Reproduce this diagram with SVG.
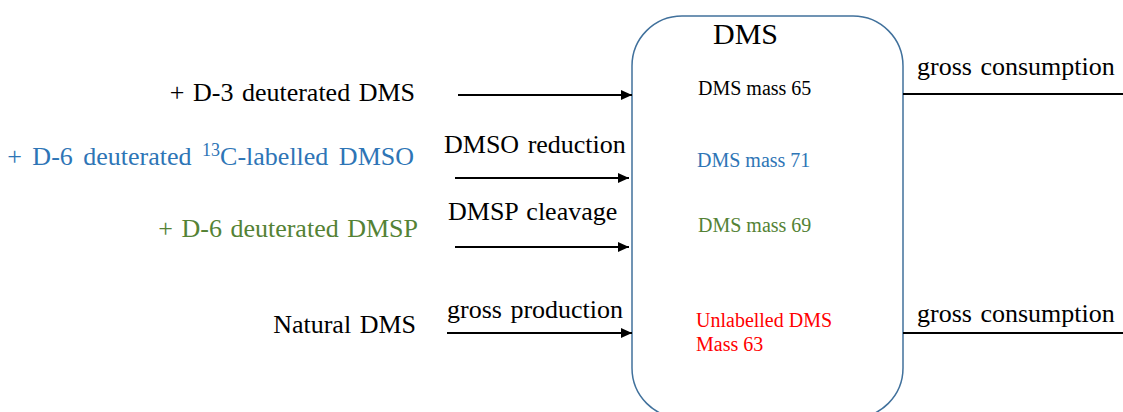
<svg xmlns="http://www.w3.org/2000/svg" width="1123" height="412" viewBox="0 0 1123 412">
<defs>
<marker id="ah" markerUnits="userSpaceOnUse" markerWidth="12" markerHeight="10" refX="11" refY="5" orient="auto">
<path d="M0,0 L11,5 L0,10 Z" fill="#000"/>
</marker>
<style>
text{font-family:"Liberation Serif","Times New Roman",serif;}
.big{font-size:26px;word-spacing:2px;}
.sm{font-size:20px;}
.k{fill:#000;}
.b{fill:#2E75B6;}
.g{fill:#548235;}
.r{fill:#FF0000;}
.ln{stroke:#000;stroke-width:2;fill:none;}
</style>
</defs>
<rect width="1123" height="412" fill="#fff"/>
<g id="dms-box">
<rect x="632" y="16" width="271" height="402" rx="50" ry="50" fill="#fff" stroke="#41719C" stroke-width="1.5"/>
<text x="745.5" y="44" class="k" font-size="30" text-anchor="middle">DMS</text>
<text x="698" y="95" class="sm k">DMS mass 65</text>
<text x="697" y="167" class="sm b">DMS mass 71</text>
<text x="698" y="232" class="sm g">DMS mass 69</text>
<text x="696" y="327" class="sm r">Unlabelled DMS</text>
<text x="696" y="351" class="sm r">Mass 63</text>
</g>
<g id="src-d3">
<text x="415" y="101" class="big k" text-anchor="end">+ D-3 deuterated DMS</text>
</g>
<g id="src-dmso">
<text x="414" y="165" class="big b" text-anchor="end" style="word-spacing:4px">+ D-6 deuterated <tspan font-size="18" dy="-9">13</tspan><tspan dy="9">C-labelled DMSO</tspan></text>
</g>
<g id="src-dmsp">
<text x="418" y="237" class="big g" text-anchor="end">+ D-6 deuterated DMSP</text>
</g>
<g id="src-natural">
<text x="416" y="333" class="big k" text-anchor="end">Natural DMS</text>
</g>
<g id="connectors">
<line x1="458" y1="95" x2="632" y2="95" class="ln" marker-end="url(#ah)"/>
<line x1="455" y1="178" x2="629" y2="178" class="ln" marker-end="url(#ah)"/>
<line x1="455" y1="247" x2="629" y2="247" class="ln" marker-end="url(#ah)"/>
<line x1="447" y1="333" x2="632" y2="333" class="ln" marker-end="url(#ah)"/>
<line x1="903" y1="94" x2="1123" y2="94" class="ln"/>
<line x1="903" y1="333" x2="1123" y2="333" class="ln"/>
<text x="444" y="153" class="big k">DMSO reduction</text>
<text x="448" y="220" class="big k">DMSP cleavage</text>
<text x="447" y="318" class="big k">gross production</text>
<text x="917" y="75" class="big k">gross consumption</text>
<text x="917" y="322" class="big k">gross consumption</text>
</g>
</svg>
